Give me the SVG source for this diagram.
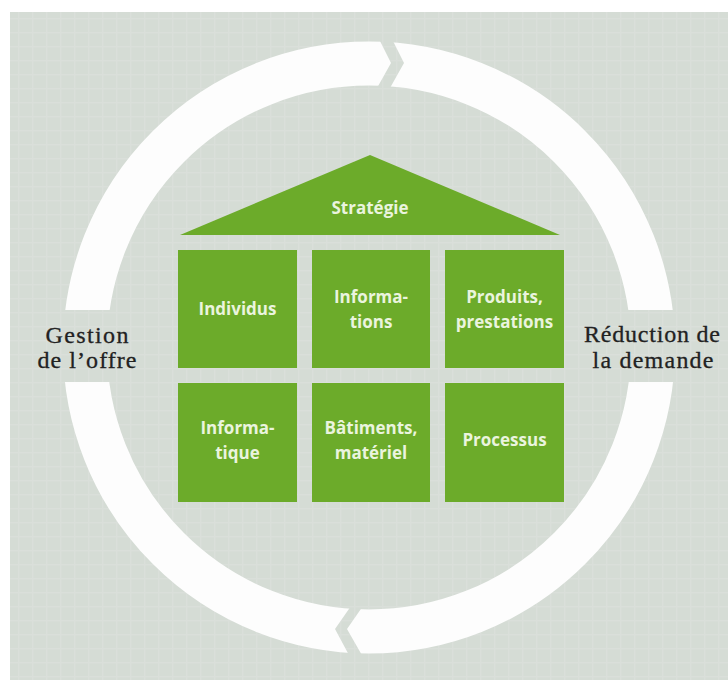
<svg xmlns="http://www.w3.org/2000/svg" width="728" height="680" viewBox="0 0 728 680">
<defs>
<style>
.box{fill:#6cab2a}
.bt{font-family:"Open Sans",Lato,sans-serif;font-weight:bold;font-size:17px;fill:#eaf4de;text-anchor:middle}
.lb{font-family:"Liberation Serif",serif;font-size:24px;fill:#222222;stroke:#222222;stroke-width:0.3;text-anchor:middle}
.bg{fill:url(#grid)}
</style>
<pattern id="grid" width="14" height="14" patternUnits="userSpaceOnUse">
<rect width="14" height="14" fill="#d5dcd5"/>
<rect x="0" y="4" width="14" height="1.5" fill="#dadfda"/>
<rect x="4" y="0" width="1.5" height="14" fill="#dadfda"/>
</pattern>
</defs>
<rect x="0" y="0" width="728" height="680" fill="#ffffff"/>
<rect x="10" y="12" width="718" height="668" fill="url(#grid)"/>
<g id="cycle">
<circle cx="369" cy="347.5" r="284" fill="none" stroke="#fdfdfd" stroke-width="44"/>
<polygon class="bg" points="379,39 391,63 377,88 390,88 404,63 392,39"/>
<polygon class="bg" points="351,606 335,629 350,657 363,657 347,629 363,606"/>
</g>
<g id="label-left">
<rect class="bg" x="20" y="310" width="140" height="72"/>
<text class="lb" x="87" y="343" textLength="83" lengthAdjust="spacing">Gestion</text>
<text class="lb" x="87" y="368" textLength="99" lengthAdjust="spacing">de l’offre</text>
</g>
<g id="label-right">
<rect class="bg" x="578" y="310" width="150" height="72"/>
<text class="lb" x="652" y="342" textLength="136" lengthAdjust="spacing">Réduction de</text>
<text class="lb" x="653" y="368" textLength="121" lengthAdjust="spacing">la demande</text>
</g>
<g id="strategie">
<polygon class="box" points="370,155 560,235 180,235"/>
<text class="bt" x="370" y="214">Stratégie</text>
</g>
<g id="individus">
<rect class="box" x="178" y="250" width="119" height="118"/>
<text class="bt" x="237.5" y="315">Individus</text>
</g>
<g id="informations">
<rect class="box" x="312" y="250" width="118" height="118"/>
<text class="bt" x="371" y="303">Informa-</text>
<text class="bt" x="371" y="328">tions</text>
</g>
<g id="produits">
<rect class="box" x="445" y="250" width="119" height="118"/>
<text class="bt" x="504.5" y="303">Produits,</text>
<text class="bt" x="504.5" y="328">prestations</text>
</g>
<g id="informatique">
<rect class="box" x="178" y="383" width="119" height="119"/>
<text class="bt" x="237.5" y="434">Informa-</text>
<text class="bt" x="237.5" y="459">tique</text>
</g>
<g id="batiments">
<rect class="box" x="312" y="383" width="118" height="119"/>
<text class="bt" x="371" y="434">Bâtiments,</text>
<text class="bt" x="371" y="459">matériel</text>
</g>
<g id="processus">
<rect class="box" x="445" y="383" width="119" height="119"/>
<text class="bt" x="504.5" y="446">Processus</text>
</g>
<g id="connectors"></g>
</svg>
